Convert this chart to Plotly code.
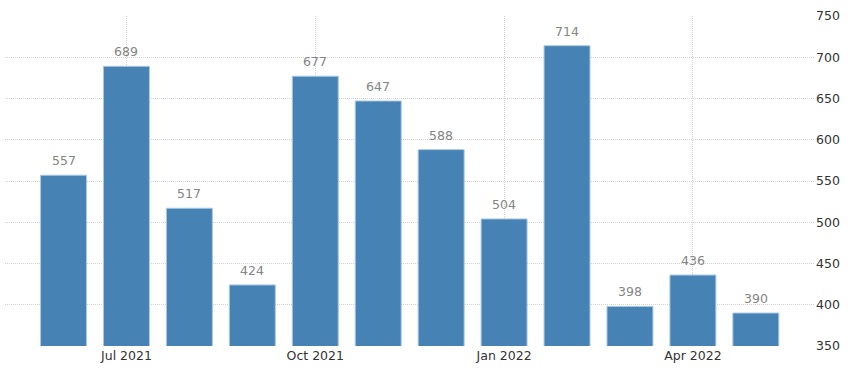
import plotly.graph_objects as go

months = ["Jun 2021", "Jul 2021", "Aug 2021", "Sep 2021", "Oct 2021", "Nov 2021",
          "Dec 2021", "Jan 2022", "Feb 2022", "Mar 2022", "Apr 2022", "May 2022"]
values = [557, 689, 517, 424, 677, 647, 588, 504, 714, 398, 436, 390]
tick_months = ["Jul 2021", "Oct 2021", "Jan 2022", "Apr 2022"]
y_ticks = [350, 400, 450, 500, 550, 600, 650, 700, 750]

FONT = "DejaVu Sans"
GRID = "#d2d2d2"

fig = go.Figure()
fig.add_trace(go.Bar(
    x=months, y=values,
    marker=dict(color="#4682b4", line=dict(color="#a8c8e4", width=1)),
    hoverinfo="x+y",
))

for m, v in zip(months, values):
    fig.add_annotation(x=m, y=v, text=str(v), showarrow=False,
                       yanchor="bottom", yshift=5,
                       font=dict(family=FONT, size=12.5, color="#858585"))

fig.update_layout(
    width=852, height=375,
    margin=dict(l=5, r=37, t=16, b=29),
    paper_bgcolor="white", plot_bgcolor="white",
    bargap=0.27,
    showlegend=False,
    font=dict(family=FONT, size=12.5, color="#333333"),
    xaxis=dict(
        type="category",
        range=[-0.93, 11.94],
        tickmode="array", tickvals=tick_months, ticktext=tick_months,
        showgrid=True, gridcolor=GRID, griddash="1px,1px", gridwidth=1,
        ticks="", showline=False, zeroline=False,
        tickfont=dict(family=FONT, size=12.5, color="#333333"),
    ),
    yaxis=dict(
        side="right",
        range=[350, 750],
        tickmode="array", tickvals=y_ticks,
        showgrid=True, gridcolor=GRID, griddash="1px,1px", gridwidth=1,
        ticks="", showline=False, zeroline=False,
        tickfont=dict(family=FONT, size=12.5, color="#333333"),
    ),
)

fig.write_html("out.html", config={"displayModeBar": False},
               post_script="document.body.style.margin='0';")
